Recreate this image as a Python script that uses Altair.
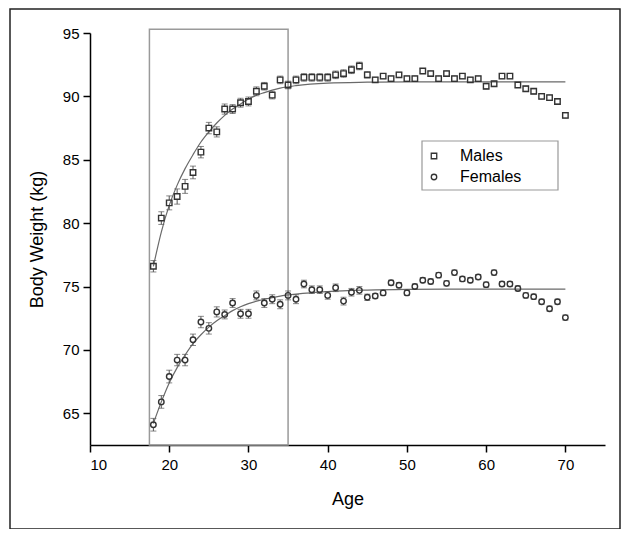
import altair as alt
import pandas as pd

ages = list(range(18, 71))

male_weight = [76.6, 80.4, 81.6, 82.1, 82.9, 84.0, 85.6, 87.5, 87.2, 89.0,
               89.0, 89.5, 89.6, 90.4, 90.8, 90.1, 91.3, 90.9, 91.3, 91.5,
               91.5, 91.5, 91.5, 91.7, 91.8, 92.1, 92.4, 91.7, 91.3, 91.6,
               91.4, 91.7, 91.4, 91.4, 92.0, 91.8, 91.4, 91.8, 91.4, 91.6,
               91.3, 91.4, 90.8, 91.0, 91.6, 91.6, 90.9, 90.6, 90.4, 90.0,
               89.9, 89.6, 88.5]
male_err = [0.45, 0.5, 0.55, 0.6, 0.55, 0.5, 0.45, 0.45, 0.4, 0.4,
            0.35, 0.35, 0.35, 0.35, 0.3, 0.3, 0.3, 0.3, 0.3, 0.3,
            0.3, 0.3, 0.3, 0.3, 0.3, 0.3, 0.3, 0.25, 0.2, 0.2,
            0.2, 0.2, 0.2, 0.2, 0.2, 0.2, 0.2, 0.2, 0.2, 0.2,
            0.2, 0.2, 0.2, 0.2, 0.2, 0.2, 0.2, 0.2, 0.2, 0.2,
            0.2, 0.2, 0.2]

female_weight = [64.1, 65.9, 67.9, 69.2, 69.2, 70.8, 72.2, 71.7, 73.0, 72.8,
                 73.7, 72.85, 72.85, 74.3, 73.7, 74.0, 73.6, 74.3, 74.0, 75.2,
                 74.75, 74.75, 74.3, 74.9, 73.85, 74.55, 74.7, 74.15, 74.25, 74.5,
                 75.3, 75.1, 74.5, 75.0, 75.5, 75.4, 75.9, 75.25, 76.1, 75.6,
                 75.5, 75.75, 75.15, 76.1, 75.2, 75.2, 74.85, 74.3, 74.2, 73.8,
                 73.25, 73.8, 72.55]
female_err = [0.5, 0.5, 0.5, 0.45, 0.45, 0.45, 0.45, 0.45, 0.4, 0.35,
              0.35, 0.35, 0.35, 0.35, 0.35, 0.35, 0.35, 0.35, 0.35, 0.3,
              0.3, 0.3, 0.3, 0.3, 0.3, 0.3, 0.3, 0.25, 0.2, 0.2,
              0.2, 0.2, 0.2, 0.2, 0.2, 0.2, 0.2, 0.2, 0.2, 0.2,
              0.2, 0.2, 0.2, 0.2, 0.2, 0.2, 0.2, 0.2, 0.2, 0.2,
              0.2, 0.2, 0.2]

fit_ages = [18, 19, 20, 21, 22, 23, 24, 25, 26, 27, 28, 29, 30, 32, 34, 36,
            40, 45, 50, 55, 60, 65, 70]
male_fit = [76.6, 79.3, 81.4, 83.0, 84.3, 85.4, 86.4, 87.2, 87.9, 88.5, 89.0,
            89.4, 89.8, 90.3, 90.65, 90.85, 91.05, 91.12, 91.15, 91.15, 91.15,
            91.15, 91.15]
female_fit = [64.2, 65.9, 67.4, 68.6, 69.6, 70.5, 71.2, 71.8, 72.3, 72.7, 73.1,
              73.4, 73.65, 74.0, 74.25, 74.4, 74.6, 74.72, 74.78, 74.8, 74.8,
              74.8, 74.8]

series = ["Males", "Females"]
x_ticks = [10, 15, 20, 25, 30, 35, 40, 45, 50, 55, 60, 65, 70, 75]
y_ticks = [65, 67.5, 70, 72.5, 75, 77.5, 80, 82.5, 85, 87.5, 90, 92.5, 95]
box_age = [17.5, 35]
box_weight = [62.5, 95.3]
marker_half = 0.22  # half marker height in kg, keeps error bars outside the open markers

FONT = "Liberation Sans"

rows = []
for s, w, e in [("Males", male_weight, male_err), ("Females", female_weight, female_err)]:
    for a, v, er in zip(ages, w, e):
        rows.append({"age": a, "weight": v, "lo": v - er, "hi": v + er,
                     "lo_in": v - marker_half, "hi_in": v + marker_half, "sex": s})
df = pd.DataFrame(rows)

fit_rows = []
for s, f in [("Males", male_fit), ("Females", female_fit)]:
    for a, v in zip(fit_ages, f):
        fit_rows.append({"age": a, "fit": v, "sex": s})
fit_df = pd.DataFrame(fit_rows)

box_df = pd.DataFrame({"x1": [box_age[0]], "x2": [box_age[1]],
                       "y1": [box_weight[0]], "y2": [box_weight[1]]})
one = pd.DataFrame({"k": [0]})

xscale = alt.Scale(domain=[10, 75], nice=False, zero=False)
yscale = alt.Scale(domain=[62.5, 95], nice=False, zero=False)

xaxis = alt.Axis(values=x_ticks, title="Age",
                 labelExpr="datum.value % 10 === 0 ? datum.label : ''",
                 tickSize={"condition": {"test": "datum.value % 10 === 0", "value": 7}, "value": 4},
                 labelPadding=5, titlePadding=18, grid=False)
yaxis = alt.Axis(values=y_ticks, title="Body Weight (kg)",
                 labelExpr="datum.value % 5 === 0 ? datum.label : ''",
                 tickSize={"condition": {"test": "datum.value % 5 === 0", "value": 7}, "value": 4},
                 labelPadding=4, titlePadding=16, grid=False)

rect = alt.Chart(box_df).mark_rect(fillOpacity=0, stroke="#9a9a9a", strokeWidth=1.5).encode(
    x=alt.X("x1:Q", scale=xscale, axis=xaxis),
    x2="x2:Q",
    y=alt.Y("y1:Q", scale=yscale, axis=yaxis),
    y2="y2:Q",
)

fit = alt.Chart(fit_df).mark_line(color="#6a6a6a", strokeWidth=1.2, interpolate="monotone").encode(
    x=alt.X("age:Q", scale=xscale),
    y=alt.Y("fit:Q", scale=yscale),
    detail="sex:N",
)

bars_lo = alt.Chart(df).mark_rule(color="#555555", strokeWidth=1).encode(
    x=alt.X("age:Q", scale=xscale),
    y=alt.Y("lo:Q", scale=yscale),
    y2="lo_in:Q",
)
bars_hi = alt.Chart(df).mark_rule(color="#555555", strokeWidth=1).encode(
    x=alt.X("age:Q", scale=xscale),
    y=alt.Y("hi_in:Q", scale=yscale),
    y2="hi:Q",
)
cap_lo = alt.Chart(df).mark_tick(color="#555555", orient="horizontal", size=6, thickness=1).encode(
    x=alt.X("age:Q", scale=xscale),
    y=alt.Y("lo:Q", scale=yscale),
)
cap_hi = alt.Chart(df).mark_tick(color="#555555", orient="horizontal", size=6, thickness=1).encode(
    x=alt.X("age:Q", scale=xscale),
    y=alt.Y("hi:Q", scale=yscale),
)

pts = alt.Chart(df).mark_point(filled=False, size=30, strokeWidth=1.4, color="#333333",
                               opacity=1).encode(
    x=alt.X("age:Q", scale=xscale),
    y=alt.Y("weight:Q", scale=yscale),
    shape=alt.Shape("sex:N", scale=alt.Scale(domain=series, range=["square", "circle"]),
                    legend=alt.Legend(title=None, orient="none", legendX=336, legendY=115,
                                      padding=0, labelOffset=18, rowPadding=5,
                                      labelFontSize=16, labelFont=FONT, labelColor="black",
                                      symbolSize=30, symbolStrokeWidth=1.3,
                                      symbolStrokeColor="#333333")),
)

legend_box = alt.Chart(one).mark_rect(fillOpacity=0, stroke="#999999", strokeWidth=1.2).encode(
    x=alt.value(332), x2=alt.value(468), y=alt.value(108), y2=alt.value(157)
)

frame = alt.Chart(one).mark_rect(fillOpacity=0, stroke="#222222", strokeWidth=1.5).encode(
    x=alt.value(-80), x2=alt.value(530), y=alt.value(-24), y2=alt.value(496)
)

chart = alt.layer(rect, fit, bars_lo, bars_hi, cap_lo, cap_hi, pts, legend_box, frame).properties(
    width=515, height=412,
    autosize=alt.AutoSizeParams(type="none"),
    padding={"left": 82, "top": 25, "right": 16, "bottom": 84},
    background="white",
).configure_view(stroke=None).configure_axis(
    domainColor="black", domainWidth=1.5, tickColor="black", tickWidth=1.5,
    labelFont=FONT, labelFontSize=15, labelColor="black",
    titleFont=FONT, titleFontSize=18, titleColor="black", titleFontWeight="normal",
)

chart.save("out.html", embed_options={"renderer": "svg", "actions": False})
